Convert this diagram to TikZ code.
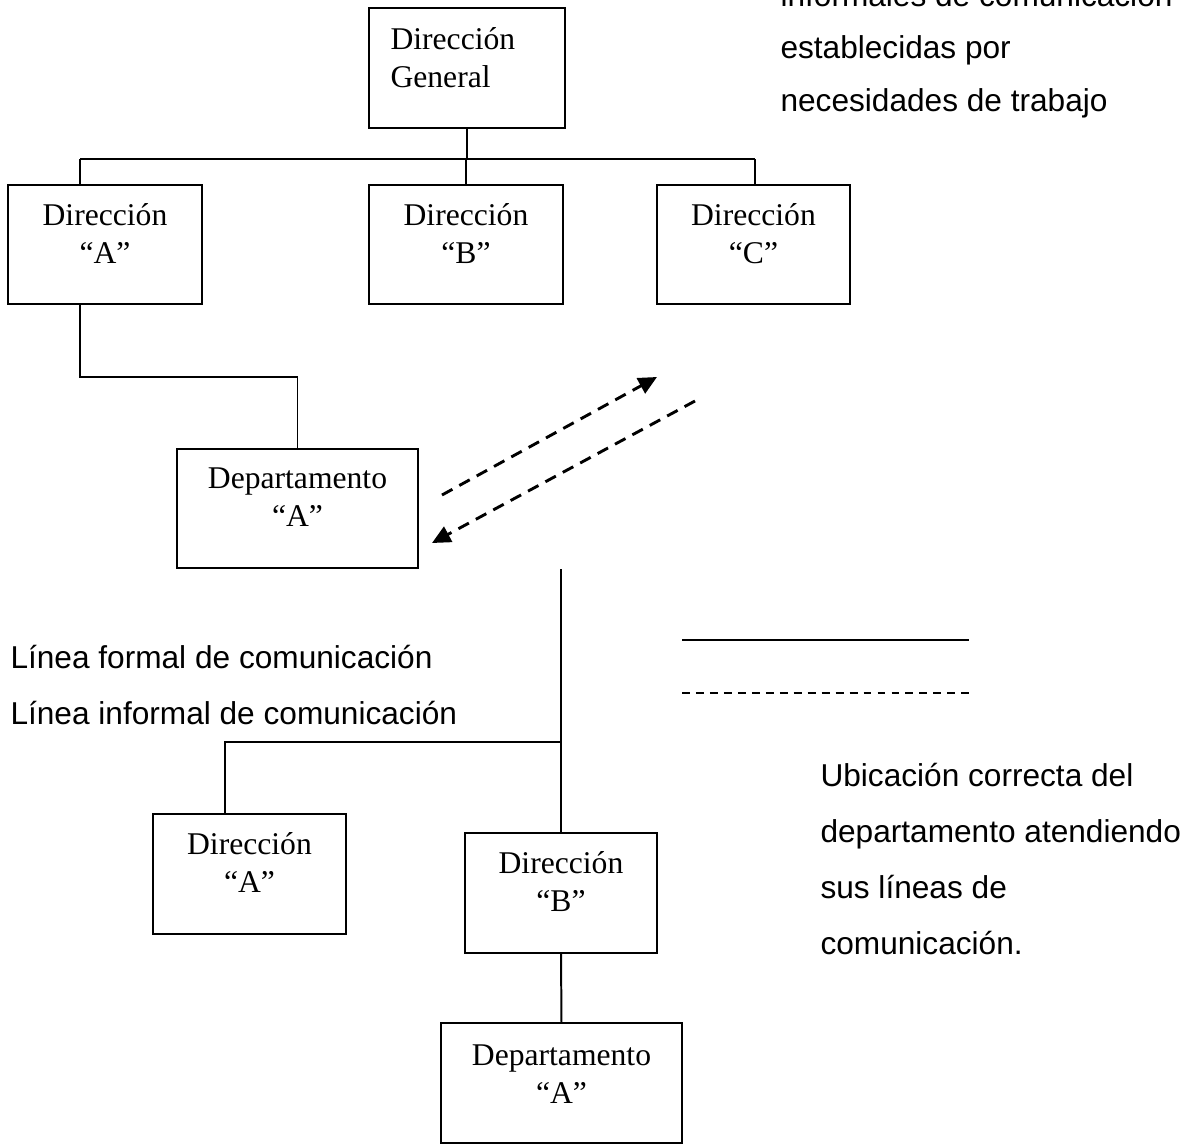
\documentclass[tikz,border=0pt]{standalone}
\usepackage{fontspec}
\setmainfont{Liberation Serif}
\newfontfamily\arial{Liberation Sans}
\usetikzlibrary{arrows.meta}

\tikzset{
  caja/.style={draw, line width=0.75pt, inner sep=0pt, outer sep=0pt,
    minimum width=#1, minimum height=1.59cm},
  rotulo/.style={inner sep=0pt, align=center, anchor=north,
    font=\fontsize{12}{14.4}\selectfont},
  nota/.style={inner sep=0pt, align=left, anchor=north west,
    font=\arial\fontsize{12}{21.2}\selectfont},
  linea/.style={line width=0.75pt},
  informal/.style={line width=1.1pt, dash pattern=on 4.5pt off 3pt}
}

\begin{document}
\begin{tikzpicture}[x=0.013333cm, y=-0.013333cm, >={Triangle[length=7pt,width=6.5pt]}]
  \clip (0,0) rectangle (1196,1144);

  % 1. organigrama original
  \node[caja=2.61cm] (dg) at (467,68) {};
  \node[rotulo, anchor=north west, align=left] (tdg) at (390,27) {Dirección\\General};

  \node[caja=2.59cm] (da) at (105,244.5) {};
  \node[rotulo] (tda) at (105,203) {Dirección\\“A”};
  \node[caja=2.59cm] (db) at (466,244.5) {};
  \node[rotulo] (tdb) at (466,203) {Dirección\\“B”};
  \node[caja=2.58cm] (dc) at (753.5,244.5) {};
  \node[rotulo] (tdc) at (753.5,203) {Dirección\\“C”};

  \node[caja=3.21cm] (dep) at (297.5,508.5) {};
  \node[rotulo] (tdep) at (297.5,467) {Departamento\\“A”};

  % 2. lineas formales
  \coordinate (busI) at (80,159);
  \coordinate (busD) at (755,159);
  \coordinate (codo) at (80,377);
  \draw[linea] (busI) -- (busD);
  \draw[linea] (dg.south) -- (dg.south |- busI);
  \draw[linea] (busI) -- (busI |- da.north);
  \draw[linea] (db.north) -- (db.north |- busI);
  \draw[linea] (busD) -- (busD |- dc.north);
  \draw[linea] (da.south -| codo) -- (codo) -| (dep.north);

  % 3. lineas informales (flechas)
  \coordinate (ida1) at (442,495);
  \coordinate (ida2) at (657,377);
  \coordinate (vta1) at (695,401);
  \coordinate (vta2) at (432,543);
  \draw[informal, ->] (ida1) -- (ida2);
  \draw[informal, ->] (vta1) -- (vta2);

  % 4. textos
  \node[nota, font=\arial\fontsize{12}{20}\selectfont] (nsup) at (780,-17.7)
    {informales de comunicación\\establecidas por\\necesidades de trabajo};
  \node[nota] (nley) at (10,645)
    {Línea formal de comunicación\\Línea informal de comunicación};
  \node[nota] (nubi) at (820,763)
    {Ubicación correcta del\\departamento atendiendo\\sus líneas de\\comunicación.};

  % 5. leyenda
  \coordinate (lf1) at (682,640);
  \coordinate (lf2) at (969,640);
  \coordinate (li1) at (682,693);
  \coordinate (li2) at (969,693);
  \draw[linea] (lf1) -- (lf2);
  \draw[line width=0.8pt, dash pattern=on 3pt off 2.3pt] (li1) -- (li2);

  % 6. ubicacion correcta
  \node[caja=2.57cm] (da2) at (249.5,874) {};
  \node[rotulo] (tda2) at (249.5,832) {Dirección\\“A”};
  \node[caja=2.56cm] (db2) at (561,893) {};
  \node[rotulo] (tdb2) at (561,851) {Dirección\\“B”};
  \node[caja=3.21cm] (dep2) at (561.5,1083) {};
  \node[rotulo] (tdep2) at (561.5,1044) {Departamento\\“A”};

  \coordinate (tope) at (561,569);
  \coordinate (bus2) at (225,742);
  \draw[linea] (tope) -- (db2.north);
  \draw[linea] (bus2 -| tope) -- (bus2) -- (bus2 |- da2.north);
  \draw[linea] (db2.south) -- (dep2.north);
\end{tikzpicture}
\end{document}
